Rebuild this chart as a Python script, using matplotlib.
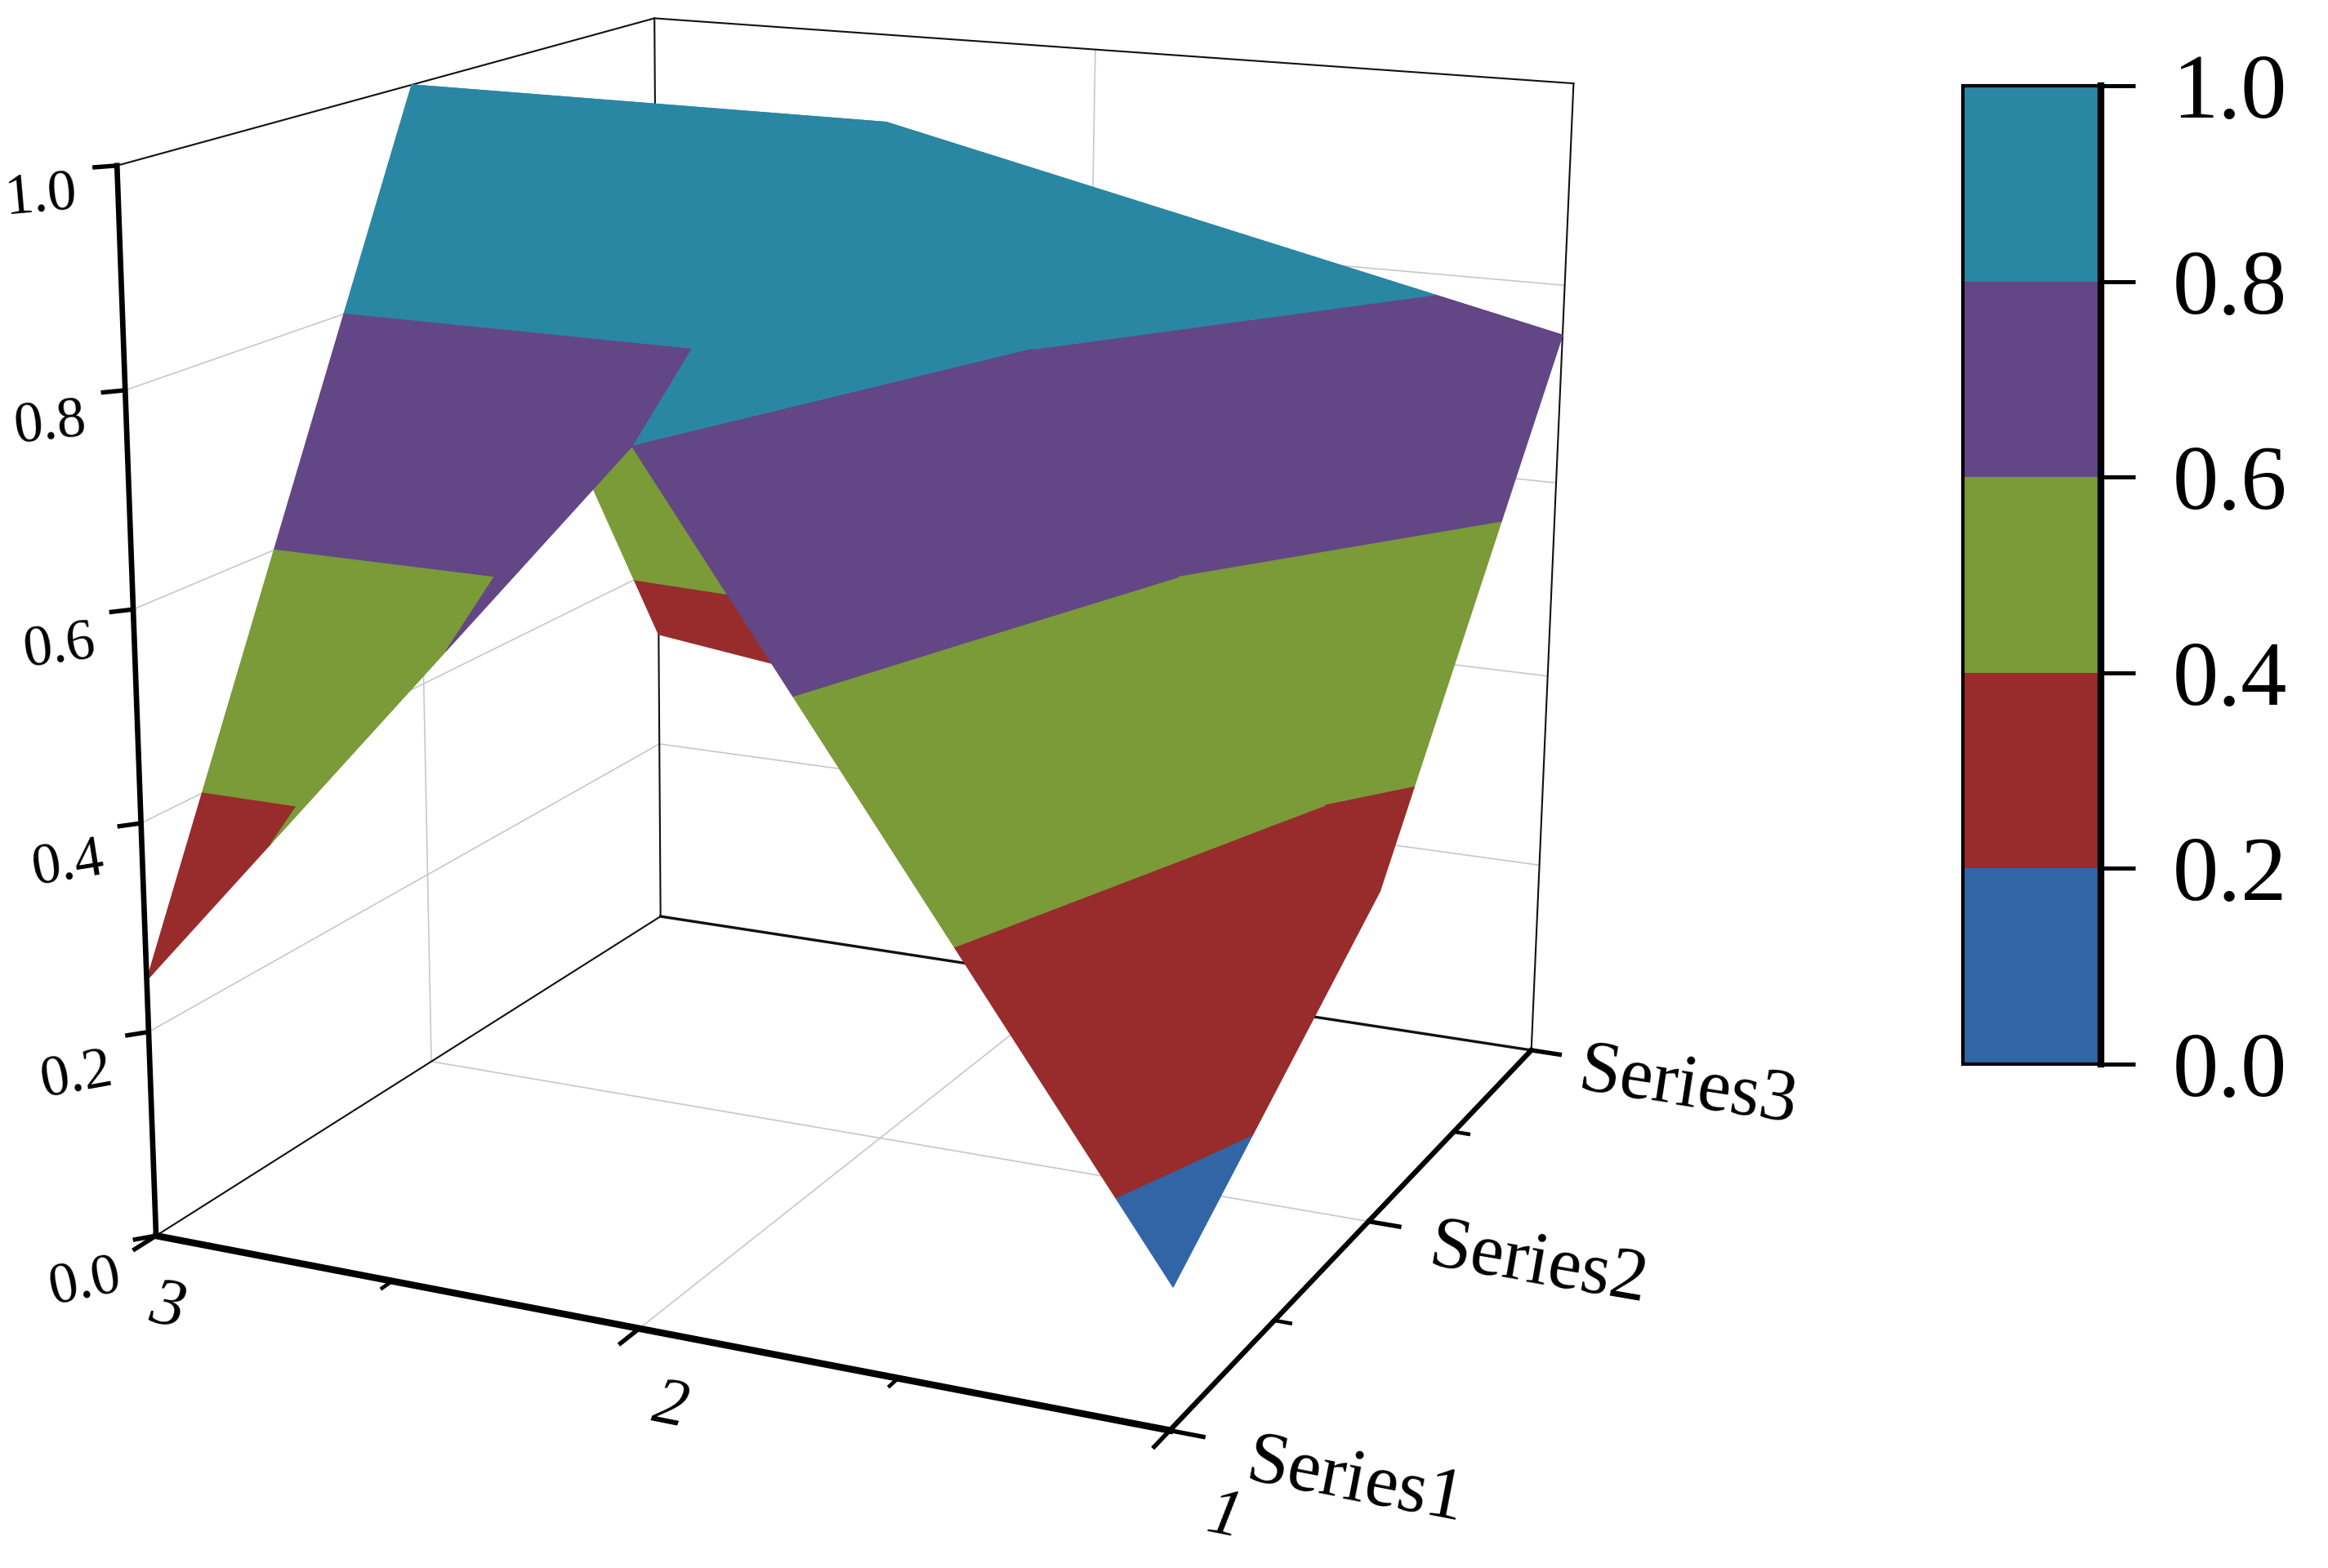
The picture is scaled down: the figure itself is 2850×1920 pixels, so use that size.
import numpy as np
import matplotlib
matplotlib.use('Agg')
import matplotlib.pyplot as plt
from matplotlib.cm import ScalarMappable
from matplotlib.colors import BoundaryNorm, ListedColormap
from mpl_toolkits.mplot3d.art3d import Poly3DCollection

plt.rcParams['font.family'] = ['Liberation Serif', 'DejaVu Serif']

# grid of the surface
x_vals = [1, 2, 3]
y_vals = [1, 2, 3]
z_series1 = [0.13, 0.80, 0.25]
z_series2 = [0.325, 1.00, 1.00]
z_series3 = [0.75, 0.265, 0.325]

levels = [0.0, 0.2, 0.4, 0.6, 0.8, 1.0]
band_colors = ['#3265A6', '#982B2C', '#7B9A38', '#634685', '#2A87A3']

x_ticks = [1, 2, 3]
x_minor = [1.5, 2.5]
x_labels = ['1', '2', '3']
y_ticks = [1, 2, 3]
y_minor = [1.5, 2.5]
y_labels = ['Series1', 'Series2', 'Series3']
z_ticks = [0.0, 0.2, 0.4, 0.6, 0.8, 1.0]
z_labels = ['0.0', '0.2', '0.4', '0.6', '0.8', '1.0']


def clip_band(tri, lo, hi):
    # cut one triangle to the part that lies between two z levels
    poly = tri
    for level, sign in ((lo, 1.), (hi, -1.)):
        out = []
        for ii in range(len(poly)):
            p0 = np.array(poly[ii])
            p1 = np.array(poly[(ii+1) % len(poly)])
            d0 = sign*(p0[2]-level)
            d1 = sign*(p1[2]-level)
            if d0 >= 0.:
                out.append(p0)
            if d0*d1 < 0.:
                out.append(p0 + (p1-p0)*d0/(d0-d1))
        poly = out
        if len(poly) < 3:
            return []
    return poly


zz = np.array([z_series1, z_series2, z_series3])

# each cell is cut along the same diagonal
triangles = []
for jj in range(len(y_vals)-1):
    for ii in range(len(x_vals)-1):
        p00 = (x_vals[ii], y_vals[jj], zz[jj, ii])
        p10 = (x_vals[ii+1], y_vals[jj], zz[jj, ii+1])
        p01 = (x_vals[ii], y_vals[jj+1], zz[jj+1, ii])
        p11 = (x_vals[ii+1], y_vals[jj+1], zz[jj+1, ii+1])
        triangles.append((p00, p10, p01))
        triangles.append((p10, p11, p01))

verts = []
cols = []
for tri in triangles:
    for kk, col in enumerate(band_colors):
        poly = clip_band(tri, levels[kk], levels[kk+1])
        if len(poly) > 2:
            verts.append(poly)
            cols.append(col)

fig = plt.figure(figsize=(9.5, 6.4), dpi=300)

ax = fig.add_axes([-0.01526, 0.0031, 0.7684, 1.1406], projection='3d')
ax.computed_zorder = False
ax.set_axis_off()
ax.view_init(elev=15.35, azim=-65.61, roll=-0.34)
ax.set_proj_type('persp', focal_length=0.5008)
ax.set_box_aspect((1, 1.0218, 0.9953))

surf = Poly3DCollection(verts, facecolors=cols, edgecolors=cols, linewidths=0.3, zorder=2)
ax.add_collection3d(surf)

xmin, xmax = x_ticks[0], x_ticks[-1]
ymin, ymax = y_ticks[0], y_ticks[-1]
zmin, zmax = z_ticks[0], z_ticks[-1]

# Grid on the floor and on the two walls
grid = dict(color='#c8c8c8', lw=0.4, zorder=1)
for yy in y_ticks[1:-1]:
    ax.plot([xmin, xmax], [yy, yy], [zmin, zmin], **grid)
    ax.plot([xmax, xmax], [yy, yy], [zmin, zmax], **grid)
for xx in x_ticks[1:-1]:
    ax.plot([xx, xx], [ymin, ymax], [zmin, zmin], **grid)
    ax.plot([xx, xx], [ymax, ymax], [zmin, zmax], **grid)
for zt in z_ticks[1:-1]:
    ax.plot([xmax, xmax], [ymin, ymax], [zt, zt], **grid)
    ax.plot([xmin, xmax], [ymax, ymax], [zt, zt], **grid)

# Thin frame of the box
box = dict(color='#111111', lw=0.5, zorder=1)
ax.plot([xmax, xmax], [ymin, ymax], [zmax, zmax], **box)
ax.plot([xmin, xmax], [ymax, ymax], [zmax, zmax], **box)
ax.plot([xmax, xmax], [ymax, ymax], [zmin, zmax], **box)
ax.plot([xmin, xmin], [ymax, ymax], [zmin, zmax], **box)
ax.plot([xmax, xmax], [ymin, ymax], [zmin, zmin], **box)
ax.plot([xmin, xmax], [ymax, ymax], [zmin, zmin], lw=0.8, color='#111111', zorder=1)

# Axis lines
ax.plot([xmin, xmax], [ymin, ymin], [zmin, zmin], color='k', lw=2.0, zorder=3)
ax.plot([xmin, xmin], [ymin, ymax], [zmin, zmin], color='k', lw=1.5, zorder=3)
ax.plot([xmax, xmax], [ymin, ymin], [zmin, zmax], color='k', lw=1.6, zorder=3)

# Ticks
for xx in x_ticks:
    ax.plot([xx, xx], [ymin, ymin-0.07], [zmin, zmin], color='k', lw=1.3, zorder=3)
for xx in x_minor:
    ax.plot([xx, xx], [ymin, ymin-0.035], [zmin, zmin], color='k', lw=1.1, zorder=3)
for yy in y_ticks:
    ax.plot([xmin, xmin-0.06], [yy, yy], [zmin, zmin], color='k', lw=1.3, zorder=3)
for yy in y_minor:
    ax.plot([xmin, xmin-0.03], [yy, yy], [zmin, zmin], color='k', lw=1.1, zorder=3)
for zt in z_ticks:
    ax.plot([xmax, xmax+0.025], [ymin, ymin-0.031], [zt, zt], color='k', lw=1.3, zorder=3)

# Tick labels, zdir tilts them the way of the box edges
for xx, lab in zip(x_ticks, x_labels):
    ax.text(xx-0.20, ymin-0.27, zmin, lab, zdir=(-0.1, 0, 0), fontsize=20, style='italic',
            ha='center', va='center', zorder=4)
for yy, lab in zip(y_ticks, y_labels):
    ax.text(xmin-0.33, yy, zmin-0.015, lab, zdir=(-0.1, 0, 0), fontsize=22,
            ha='center', va='center', zorder=4)
for zt, lab in zip(z_ticks, z_labels):
    ax.text(xmax+0.027, ymin-0.19, zt-0.013, lab, zdir=(-0.1, 0.137, 0), fontsize=17,
            ha='center', va='center', zorder=4)

ax.set_xlim(xmax, xmin, view_margin=0)
ax.set_ylim(ymin, ymax, view_margin=0)
ax.set_zlim(zmin, zmax, view_margin=0)

# Colour scale on the right
cax = fig.add_axes([2403/2850., 1-1303/1920., 169/2850., 1198/1920.])
cmap = ListedColormap(band_colors)
norm = BoundaryNorm(levels, cmap.N)
cb = fig.colorbar(ScalarMappable(norm=norm, cmap=cmap), cax=cax, ticks=levels, spacing='proportional')
cb.ax.set_yticklabels(z_labels)
cb.ax.tick_params(axis='y', which='major', length=10, width=1.2, pad=11, labelsize=27, direction='out')
cb.ax.minorticks_off()
cb.outline.set_linewidth(1.0)
cb.outline.set_edgecolor('k')
cb.ax.axvline(1., color='k', lw=2.0, clip_on=False)

fig.savefig('out.png', dpi=300, facecolor='white')
